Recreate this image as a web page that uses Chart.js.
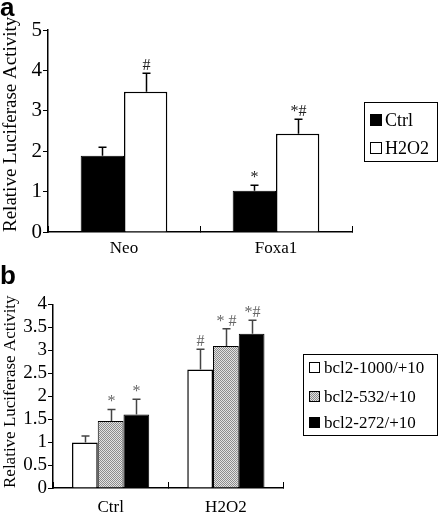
<!DOCTYPE html>
<html><head><meta charset="utf-8">
<script src="https://cdn.jsdelivr.net/npm/chart.js@4"></script>
<style>
html,body{margin:0;padding:0;background:#fff;}
canvas{position:absolute;left:0;}
#ca{top:0;}
#cb{top:258px;}
</style></head><body>
<canvas id="ca" width="438" height="258"></canvas>
<canvas id="cb" width="438" height="257"></canvas>
<script>
// ---- Panel a data ----
const catsA = ['Neo', 'Foxa1'];
const ctrlA = [1.89, 1.02];
const ctrlErrA = [0.21, 0.14];
const h2o2A = [3.47, 2.43];
const h2o2ErrA = [0.46, 0.36];
const ctrlMarksA = ['', '*'];
const h2o2MarksA = ['#', '*#'];
const ticksA = [0, 1, 2, 3, 4, 5];

// ---- Panel b data ----
const catsB = ['Ctrl', 'H2O2'];
const s1000 = [0.99, 2.58];
const s1000Err = [0.14, 0.44];
const s532 = [1.46, 3.09];
const s532Err = [0.25, 0.38];
const s272 = [1.60, 3.36];
const s272Err = [0.33, 0.29];
const marks1000 = ['', '#'];
const marks532 = ['*', '* #'];
const marks272 = ['*', '*#'];
const ticksB = [0, 0.5, 1, 1.5, 2, 2.5, 3, 3.5, 4];

const SERIF = "'Liberation Serif', 'Times New Roman', serif";

function makePattern() {
  const c = document.createElement('canvas');
  c.width = 2; c.height = 2;
  const x = c.getContext('2d');
  x.fillStyle = '#e2e2e2'; x.fillRect(0, 0, 2, 2);
  x.fillStyle = '#8c8c8c'; x.fillRect(0, 0, 1, 1); x.fillRect(1, 1, 1, 1);
  return x.createPattern(c, 'repeat');
}

const errPlugin = {
  id: 'errbars',
  afterDatasetsDraw(chart, args, o) {
    const ctx = chart.ctx, y = chart.scales.y;
    chart.data.datasets.forEach((ds, i) => {
      const meta = chart.getDatasetMeta(i);
      meta.data.forEach((bar, j) => {
        const v = ds.data[j], e = ds.err[j];
        const yTop = y.getPixelForValue(v + e);
        const x = Math.round(bar.x) + 0.5;
        ctx.save();
        ctx.strokeStyle = o.color; ctx.lineWidth = o.width;
        ctx.beginPath();
        ctx.moveTo(x, bar.y); ctx.lineTo(x, yTop);
        ctx.moveTo(x - o.cap, yTop); ctx.lineTo(x + o.cap, yTop);
        ctx.stroke();
        const m = ds.marks[j];
        if (m) {
          ctx.fillStyle = o.markColor; ctx.font = o.markFont;
          ctx.textAlign = 'center'; ctx.textBaseline = 'alphabetic';
          ctx.fillText(m, x, yTop - o.markGap);
        }
        ctx.restore();
      });
    });
  }
};

const boxLegend = {
  id: 'boxLegend',
  afterDraw(chart, args, o) {
    const ctx = chart.ctx;
    ctx.save();
    ctx.strokeStyle = '#000'; ctx.lineWidth = 1;
    ctx.strokeRect(o.x + 0.5, o.y + 0.5, o.w, o.h);
    ctx.font = o.font; ctx.textBaseline = 'alphabetic'; ctx.textAlign = 'left';
    chart.data.datasets.forEach((ds, i) => {
      const by = o.rows[i];
      ctx.fillStyle = ds.backgroundColor;
      ctx.fillRect(o.sx, by - o.s, o.s, o.s);
      ctx.strokeStyle = '#000'; ctx.lineWidth = 1;
      ctx.strokeRect(o.sx + 0.5, by - o.s + 0.5, o.s - 1, o.s - 1);
      ctx.fillStyle = '#000';
      ctx.fillText(ds.label, o.tx, by);
    });
    if (o.letter) {
      ctx.font = "bold 26px 'Liberation Sans', Arial, sans-serif";
      ctx.fillStyle = '#000';
      ctx.fillText(o.letter, o.lx, o.ly);
    }
    ctx.restore();
  }
};

function axes(ticksArr, yMin, yMax, tickFont, titleFont, yWidth, xHeight, xPad) {
  return {
    x: {
      offset: true,
      afterFit: s => { s.height = xHeight; },
      grid: { display: true, drawOnChartArea: false, offset: true, tickLength: -6, color: '#000', lineWidth: 1 },
      border: { display: true, color: '#000', width: 1.5 },
      ticks: { font: { family: SERIF, size: 17 }, color: '#000', padding: xPad, maxRotation: 0 }
    },
    y: {
      min: yMin, max: yMax,
      afterFit: s => { s.width = yWidth; },
      afterBuildTicks: s => { s.ticks = ticksArr.map(v => ({ value: v })); },
      grid: { drawOnChartArea: false, tickLength: 5, color: '#000', lineWidth: 1 },
      border: { display: true, color: '#000', width: 1.5 },
      ticks: { font: { family: SERIF, size: tickFont }, color: '#000', padding: 1,
               autoSkip: false, callback: v => String(v) },
      title: { display: true, text: 'Relative Luciferase Activity', align: 'start',
               font: { family: SERIF, size: titleFont }, color: '#000', padding: 0 }
    }
  };
}

new Chart(document.getElementById('ca'), {
  type: 'bar',
  data: {
    labels: catsA,
    datasets: [
      { label: 'Ctrl', data: ctrlA, err: ctrlErrA, marks: ctrlMarksA,
        backgroundColor: '#000', borderColor: '#000', borderWidth: 1,
        categoryPercentage: 0.57, barPercentage: 1 },
      { label: 'H2O2', data: h2o2A, err: h2o2ErrA, marks: h2o2MarksA,
        backgroundColor: '#fff', borderColor: '#000', borderWidth: 1.5,
        categoryPercentage: 0.57, barPercentage: 1 }
    ]
  },
  options: {
    responsive: false, animation: false, devicePixelRatio: 1,
    layout: { padding: { left: 0, right: 86, top: 30, bottom: 0 } },
    scales: axes(ticksA, 0, 5, 21, 19, 48, 26, 12),
    plugins: {
      legend: { display: false }, tooltip: { enabled: false },
      errbars: { color: '#000', width: 1.5, cap: 4, markColor: '#222', markFont: '16px ' + SERIF, markGap: 3 },
      boxLegend: { x: 364, y: 102, w: 73, h: 59, sx: 370, s: 12, tx: 385, rows: [126, 154],
                   font: '18px ' + SERIF, letter: 'a', lx: 0, ly: 16 }
    }
  },
  plugins: [errPlugin, boxLegend]
});

new Chart(document.getElementById('cb'), {
  type: 'bar',
  data: {
    labels: catsB,
    datasets: [
      { label: 'bcl2-1000/+10', data: s1000, err: s1000Err, marks: marks1000,
        backgroundColor: '#fff', borderColor: '#000', borderWidth: 1.5,
        categoryPercentage: 0.67, barPercentage: 1 },
      { label: 'bcl2-532/+10', data: s532, err: s532Err, marks: marks532,
        backgroundColor: makePattern(), borderColor: '#000', borderWidth: 1,
        categoryPercentage: 0.67, barPercentage: 1 },
      { label: 'bcl2-272/+10', data: s272, err: s272Err, marks: marks272,
        backgroundColor: '#000', borderColor: '#000', borderWidth: 1,
        categoryPercentage: 0.67, barPercentage: 1 }
    ]
  },
  options: {
    responsive: false, animation: false, devicePixelRatio: 1,
    layout: { padding: { left: 0, right: 154.5, top: 46.3, bottom: 0 } },
    scales: axes(ticksB, 0, 4, 19, 17, 53, 27, 15),
    plugins: {
      legend: { display: false }, tooltip: { enabled: false },
      errbars: { color: '#444', width: 1.5, cap: 4, markColor: '#666', markFont: '16px ' + SERIF, markGap: 3 },
      boxLegend: { x: 303, y: 96, w: 134, h: 81, sx: 309, s: 11, tx: 324, rows: [115, 144, 170],
                   font: '17px ' + SERIF, letter: 'b', lx: 0, ly: 26 }
    }
  },
  plugins: [errPlugin, boxLegend]
});
</script>
</body></html>
